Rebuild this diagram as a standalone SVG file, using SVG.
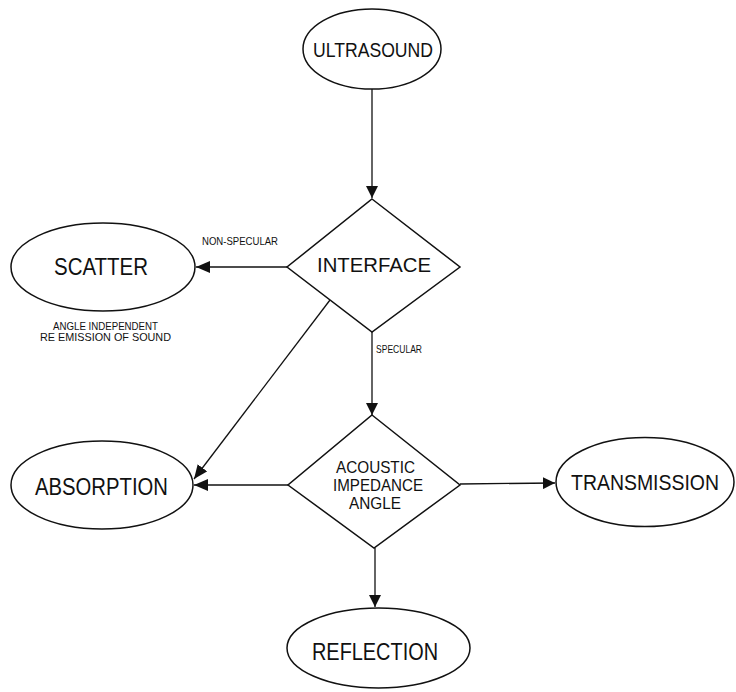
<svg xmlns="http://www.w3.org/2000/svg" width="736" height="692" viewBox="0 0 736 692">
<defs>
<style>
.shape{fill:#fff;stroke:#111;stroke-width:1.5}
.edge{fill:none;stroke:#111;stroke-width:1.3}
.big{font-family:"Liberation Sans",Arial,sans-serif;fill:#111;text-anchor:middle}
.small{font-family:"Liberation Sans",Arial,sans-serif;font-size:11px;fill:#111;text-anchor:middle}
</style>
<marker id="arr" viewBox="0 0 12 12" refX="12" refY="6" markerWidth="12" markerHeight="12" markerUnits="userSpaceOnUse" orient="auto">
<path d="M0,0 L12,6 L0,12 Z" fill="#111"/>
</marker>
<marker id="arr2" viewBox="0 0 14 12" refX="14" refY="6" markerWidth="14" markerHeight="12" markerUnits="userSpaceOnUse" orient="auto">
<path d="M0,0 L14,6 L0,12 Z" fill="#111"/>
</marker>
</defs>
<rect width="736" height="692" fill="#fff"/>
<g id="connectors">
<line class="edge" x1="372" y1="89" x2="372" y2="198" marker-end="url(#arr)"/>
<line class="edge" x1="287" y1="267" x2="196" y2="267" marker-end="url(#arr2)"/>
<line class="edge" x1="330" y1="300" x2="194" y2="479" marker-end="url(#arr2)"/>
<line class="edge" x1="372" y1="332" x2="372" y2="415" marker-end="url(#arr)"/>
<line class="edge" x1="288" y1="485" x2="194" y2="485" marker-end="url(#arr2)"/>
<line class="edge" x1="460" y1="484" x2="555" y2="483" stroke-width="2" marker-end="url(#arr)"/>
<line class="edge" x1="375" y1="548" x2="375" y2="607" stroke="#444" marker-end="url(#arr)"/>
<text class="small" x="240" y="245" textLength="76" lengthAdjust="spacingAndGlyphs">NON-SPECULAR</text>
<text class="small" x="399" y="353" textLength="46" lengthAdjust="spacingAndGlyphs">SPECULAR</text>
</g>
<g id="ultrasound">
<ellipse class="shape" cx="372" cy="49" rx="69" ry="40"/>
<text class="big" x="373" y="57" font-size="21" textLength="120" lengthAdjust="spacingAndGlyphs">ULTRASOUND</text>
</g>
<g id="interface">
<polygon class="shape" points="372,199 460,267 372,332 287,267"/>
<text class="big" x="374" y="272" font-size="21" textLength="114" lengthAdjust="spacingAndGlyphs">INTERFACE</text>
</g>
<g id="scatter">
<ellipse class="shape" cx="103" cy="267" rx="92" ry="44"/>
<text class="big" x="101" y="275" font-size="24" textLength="94" lengthAdjust="spacingAndGlyphs">SCATTER</text>
<text class="small" x="105.5" y="330" textLength="105" lengthAdjust="spacingAndGlyphs">ANGLE INDEPENDENT</text>
<text class="small" x="105.5" y="341" textLength="131" lengthAdjust="spacingAndGlyphs">RE EMISSION OF SOUND</text>
</g>
<g id="acoustic">
<polygon class="shape" points="372,415 460,485 374,548 288,485"/>
<text class="big" x="375.5" y="473" font-size="17" textLength="79" lengthAdjust="spacingAndGlyphs">ACOUSTIC</text>
<text class="big" x="378" y="491" font-size="17" textLength="90" lengthAdjust="spacingAndGlyphs">IMPEDANCE</text>
<text class="big" x="375" y="509" font-size="17" textLength="52" lengthAdjust="spacingAndGlyphs">ANGLE</text>
</g>
<g id="absorption">
<ellipse class="shape" cx="102" cy="485" rx="91" ry="44"/>
<text class="big" x="101.5" y="495" font-size="24" textLength="133" lengthAdjust="spacingAndGlyphs">ABSORPTION</text>
</g>
<g id="transmission">
<ellipse class="shape" cx="645" cy="482" rx="89" ry="44.5"/>
<text class="big" x="645" y="490" font-size="22" textLength="148" lengthAdjust="spacingAndGlyphs">TRANSMISSION</text>
</g>
<g id="reflection">
<ellipse class="shape" cx="378.5" cy="648" rx="91.5" ry="40"/>
<text class="big" x="375" y="660" font-size="24" textLength="126" lengthAdjust="spacingAndGlyphs">REFLECTION</text>
</g>
</svg>
